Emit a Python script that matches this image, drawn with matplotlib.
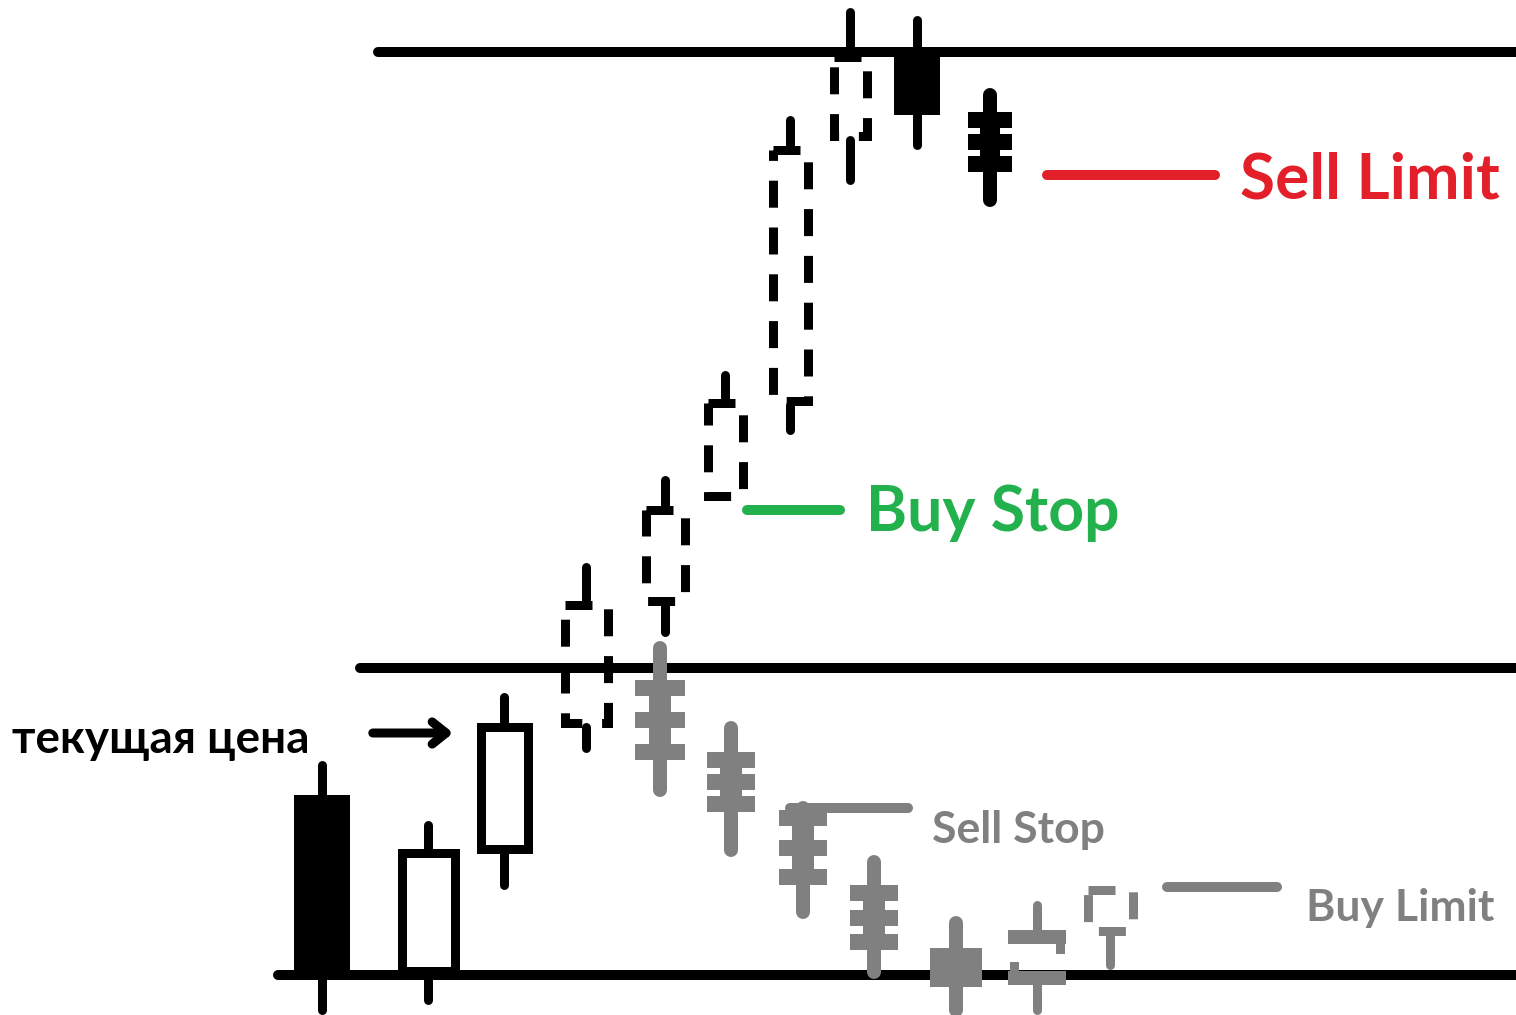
import matplotlib.pyplot as plt
from matplotlib.patches import Rectangle

# Chart space: x is the time axis, y is "price" drawn top-down (same units as picture)
W, H = 1516, 1015
PX = 0.72  # points per pixel at dpi 100

# candles: centre, half width, body top/bottom, high, low, style, colour
cx = [322, 428, 504, 586, 665, 725, 790, 850, 917, 990,
      660, 731, 803, 874, 956, 1037, 1110]
half_w = [28, 31, 28, 26, 24, 22, 22, 21, 23, 22,
          25, 24, 24, 24, 26, 29, 27]
body_top = [795, 848, 722, 600, 505, 398, 145, 52, 50, 112,
            680, 752, 810, 885, 948, 937, 885]
body_bot = [975, 975, 853, 727, 605, 500, 405, 140, 115, 172,
            760, 812, 885, 950, 987, 978, 935]
high = [765, 825, 697, 567, 480, 375, 120, 12, 20, 95,
        648, 728, 808, 862, 923, 905, 885]
low = [1010, 1000, 885, 748, 632, 500, 430, 180, 145, 200,
       790, 850, 912, 972, 1010, 1010, 965]
style = ["solid", "hollow", "hollow", "dashed", "dashed", "dashed", "dashed",
         "dashed", "solid", "ladder",
         "ladder", "ladder", "ladder", "ladder", "ladder", "split", "dashed"]
colour = ["black"] * 10 + ["#808080"] * 7

# horizontal support / resistance levels
levels = [52, 668, 975]
level_start = [378, 360, 278]

# pending orders: price, line start, line end, label, colour
orders = ["Sell Limit", "Buy Stop", "Sell Stop", "Buy Limit"]
order_price = [175, 510, 808, 887]
order_x0 = [1047, 747, 790, 1167]
order_x1 = [1215, 840, 908, 1277]
order_col = ["#e3202a", "#22b14c", "#808080", "#808080"]
label_x = [1240, 866, 932, 1306]
label_y = [180, 513, 830, 908]
label_size = [46, 45, 32, 32]

plt.rcParams["font.family"] = ["Lato", "Open Sans", "DejaVu Sans"]

fig = plt.figure(figsize=(W / 100, H / 100), dpi=100)
ax = fig.add_axes([0, 0, 1, 1])
ax.set_xlim(0, W)
ax.set_ylim(H, 0)
ax.axis("off")

lw_line = 10 * PX
for y, x0 in zip(levels, level_start):
    ax.plot([x0, W + 20], [y, y], color="black", lw=lw_line,
            solid_capstyle="round", zorder=1)

lw = 9 * PX
for i in range(len(cx)):
    x, hw, t, b, hi, lo = cx[i], half_w[i], body_top[i], body_bot[i], high[i], low[i]
    c, s = colour[i], style[i]
    inset = 4.5
    if s == "ladder":
        ax.plot([x, x], [hi, lo], color=c, lw=14 * PX,
                solid_capstyle="round", zorder=3)
        ax.add_patch(Rectangle((x - 0.45 * hw, t), 0.9 * hw, b - t,
                               color=c, lw=0, zorder=3))
        for yy in (t + 8, (t + b) / 2, b - 8):
            ax.add_patch(Rectangle((x - hw, yy - 8), 2 * hw, 16,
                                   color=c, lw=0, zorder=3))
        continue
    if s == "split":
        ax.plot([x, x], [hi, t], color=c, lw=lw, solid_capstyle="round", zorder=3)
        ax.plot([x, x], [b, lo], color=c, lw=lw, solid_capstyle="round", zorder=3)
        for yy in (t, b):
            ax.add_patch(Rectangle((x - hw, yy - 7), 2 * hw, 14,
                                   color=c, lw=0, zorder=3))
        ax.plot([x + hw - 6, x + hw - 6], [t, t + 12], color=c, lw=lw, zorder=3)
        ax.plot([x - hw + 6, x - hw + 6], [b, b - 12], color=c, lw=lw, zorder=3)
        continue
    if hi < t:
        ax.plot([x, x], [hi, t], color=c, lw=lw, solid_capstyle="round", zorder=3)
    if lo > b:
        ax.plot([x, x], [b, lo], color=c, lw=lw, solid_capstyle="round", zorder=3)
    if s == "solid":
        ax.add_patch(Rectangle((x - hw, t), 2 * hw, b - t, color=c, lw=0, zorder=3))
    elif s == "hollow":
        ax.add_patch(Rectangle((x - hw + inset, t + inset), 2 * hw - 2 * inset,
                               b - t - 2 * inset, facecolor="white",
                               edgecolor=c, lw=lw, zorder=3))
    else:
        ax.add_patch(Rectangle((x - hw + inset, t + inset), 2 * hw - 2 * inset,
                               b - t - 2 * inset, facecolor="none",
                               edgecolor=c, lw=lw, linestyle=(0, (3.0, 2.2)),
                               zorder=3))

for i in range(len(orders)):
    ax.plot([order_x0[i], order_x1[i]], [order_price[i]] * 2, color=order_col[i],
            lw=lw_line, solid_capstyle="round", zorder=2)
    ax.text(label_x[i], label_y[i], orders[i], color=order_col[i],
            fontsize=label_size[i], fontweight="bold",
            ha="left", va="center", zorder=4)

# current price marker
ax.annotate("", xy=(456, 733), xytext=(370, 733),
            arrowprops=dict(arrowstyle="->,head_length=1.0,head_width=0.8",
                            color="black", lw=9 * PX, capstyle="round"),
            zorder=4)
ax.text(12, 740, "текущая цена", color="black", fontsize=33,
        fontweight="bold", ha="left", va="center", zorder=4)

fig.savefig("out.png", dpi=100, facecolor="white")
